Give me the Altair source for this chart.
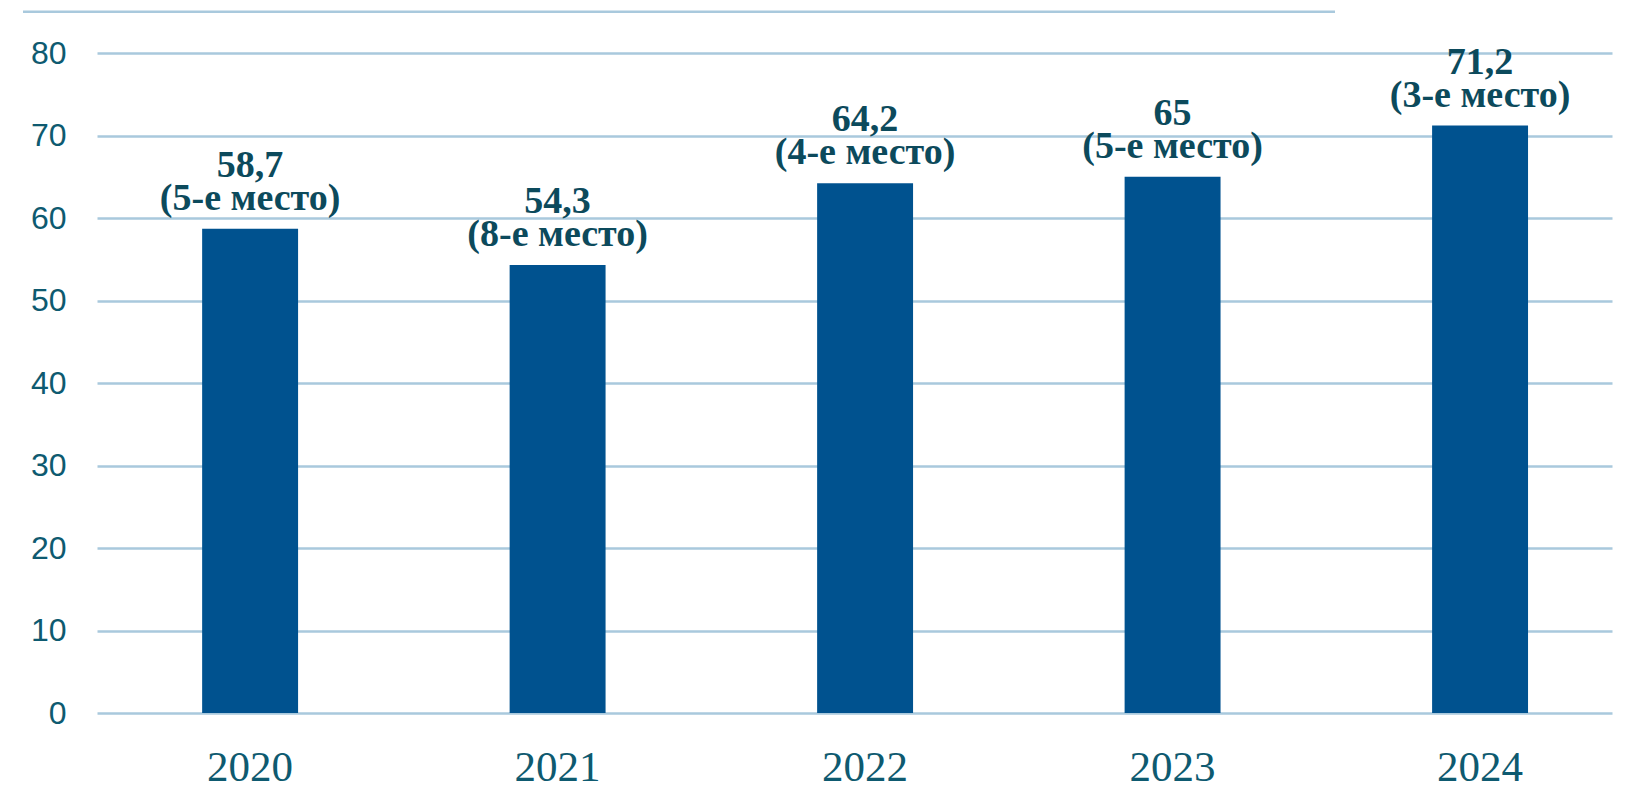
import altair as alt
import pandas as pd

years = ["2020", "2021", "2022", "2023", "2024"]
values = [58.7, 54.3, 64.2, 65.0, 71.2]
value_labels = ["58,7", "54,3", "64,2", "65", "71,2"]
places = ["(5-е место)", "(8-е место)", "(4-е место)", "(5-е место)", "(3-е место)"]
y_ticks = [0, 10, 20, 30, 40, 50, 60, 70, 80]

df = pd.DataFrame({
    "year": years,
    "value": values,
    "label": [f"{v}\n{p}" for v, p in zip(value_labels, places)],
})

BAR = "#00528f"
GRID = "#a9c9dd"
TXT = "#0c4a5c"
AX = "#0e5a70"

x_scale = alt.Scale(paddingInner=0.688, paddingOuter=0.3075, align=0.556, round=False)
x = alt.X("year:N", sort=years, scale=x_scale, axis=alt.Axis(title=None, labelAngle=0))
y = alt.Y("value:Q", scale=alt.Scale(domain=[0, 80], nice=False, zero=True),
          axis=alt.Axis(title=None, values=y_ticks))

bars = alt.Chart(df).mark_bar(color=BAR).encode(x=x, y=y)

text = alt.Chart(df).mark_text(
    font="Liberation Serif", fontSize=38, fontWeight="bold", color=TXT,
    lineBreak="\n", lineHeight=33, baseline="bottom", align="center", dy=-44,
).encode(x=alt.X("year:N", sort=years, scale=x_scale), y=alt.Y("value:Q"), text="label:N")

top_line = alt.Chart(pd.DataFrame({"v": [85]})).mark_rule(color=GRID, strokeWidth=2.5).encode(
    y=alt.Y("v:Q"), x=alt.value(-74), x2=alt.value(1238)
)

chart = alt.layer(bars, text, top_line).properties(
    width=1515, height=660, background="white",
    autosize=alt.AutoSizeParams(type="none"),
    padding={"left": 89, "top": 45, "right": 20, "bottom": 75},
).configure_view(stroke=None).configure_axis(
    domain=False, ticks=False, tickSize=0, title=None
).configure_axisX(
    labelFont="Liberation Serif", labelFontSize=43, labelColor=AX, labelPadding=33,
    labelBaseline="top", grid=False, labelAngle=0
).configure_axisY(
    labelFont="Liberation Sans", labelFontSize=32, labelColor=AX, labelPadding=31,
    grid=True, gridColor=GRID, gridWidth=2.5, gridOpacity=1
)

chart.save("out.html", embed_options={"renderer": "svg", "actions": False})
